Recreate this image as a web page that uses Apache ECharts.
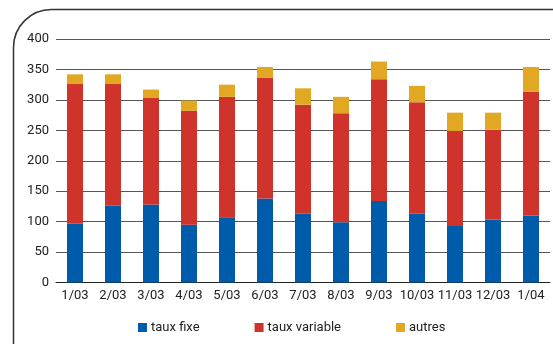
<!DOCTYPE html>
<html>
<head>
<meta charset="utf-8">
<script src="https://cdn.jsdelivr.net/npm/echarts@6/dist/echarts.min.js"></script>
<style>
html,body{margin:0;padding:0;background:#fff;}
#chart{width:553px;height:344px;}
</style>
</head>
<body>
<div id="chart"></div>
<script>
// Monthly volumes by rate type
const months = ['1/03','2/03','3/03','4/03','5/03','6/03','7/03','8/03','9/03','10/03','11/03','12/03','1/04'];
const tauxFixe = [97, 126, 128, 95, 107, 138, 113, 99, 134, 113, 93, 103, 110];
const tauxVariable = [229, 200, 175, 187, 198, 198, 179, 179, 200, 183, 156, 148, 203];
const autres = [16, 16, 14, 17, 20, 18, 27, 27, 29, 27, 30, 28, 41];
const yTicks = [0, 50, 100, 150, 200, 250, 300, 350, 400];

const FONT = 'Roboto, sans-serif';
const chart = echarts.init(document.getElementById('chart'), null, {renderer: 'canvas'});

function barSeries(name, data, color) {
  return {
    name: name,
    type: 'bar',
    stack: 'total',
    data: data,
    barWidth: 16,
    itemStyle: {color: color},
    emphasis: {disabled: true}
  };
}

chart.setOption({
  animation: false,
  graphic: [{
    type: 'rect',
    shape: {x: 13.5, y: 9.5, width: 600, height: 400, r: 38},
    style: {fill: 'none', stroke: '#333', lineWidth: 1.5},
    z: -1
  }],
  grid: {left: 56, right: 3, top: 39, bottom: 61.5},
  legend: {
    bottom: 5,
    left: 133,
    itemWidth: 9,
    itemHeight: 9,
    itemGap: 55,
    icon: 'rect',
    textStyle: {fontFamily: FONT, fontSize: 13, color: '#222', padding: [0, 0, 0, -1]},
    data: ['taux fixe', 'taux variable', 'autres']
  },
  xAxis: {
    type: 'category',
    data: months,
    axisLine: {lineStyle: {color: '#222', width: 1}},
    axisTick: {show: false},
    axisLabel: {fontFamily: FONT, fontSize: 13, color: '#222', margin: 7, interval: 0}
  },
  yAxis: {
    type: 'value',
    min: yTicks[0],
    max: yTicks[yTicks.length - 1],
    interval: 50,
    axisLine: {show: false},
    axisTick: {show: false},
    axisLabel: {fontFamily: FONT, fontSize: 13, color: '#222', margin: 7},
    splitLine: {lineStyle: {color: '#555', width: 1}}
  },
  series: [
    barSeries('taux fixe', tauxFixe, '#005BAA'),
    barSeries('taux variable', tauxVariable, '#D0332B'),
    barSeries('autres', autres, '#E3A823')
  ]
});
</script>
</body>
</html>
